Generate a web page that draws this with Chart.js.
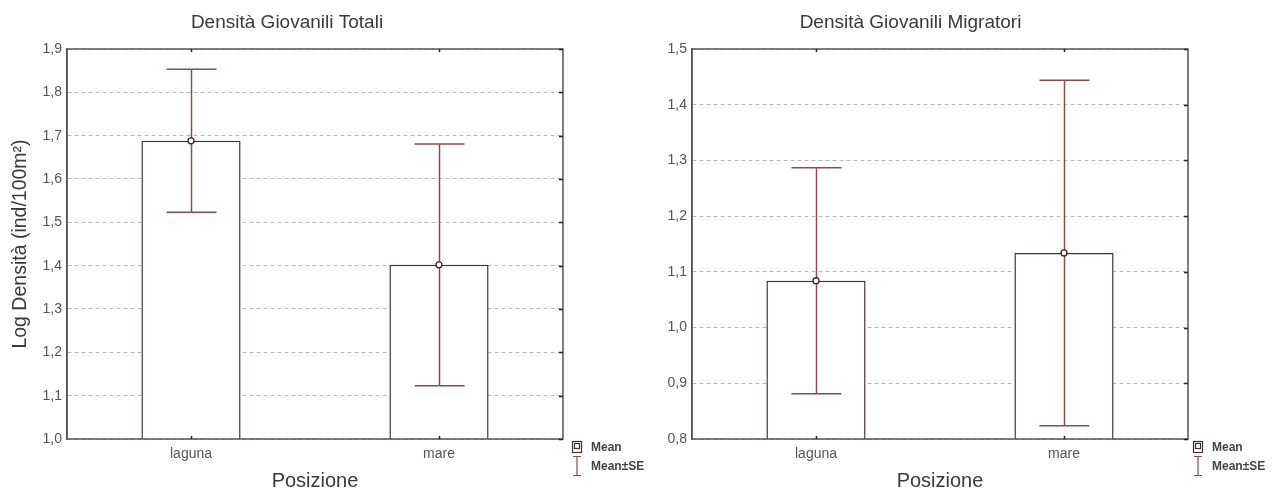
<!DOCTYPE html>
<html>
<head>
<meta charset="utf-8">
<title>Densità Giovanili</title>
<script src="https://cdn.jsdelivr.net/npm/chart.js@4/dist/chart.umd.min.js"></script>
<style>
    html, body { margin: 0; padding: 0; background: #fff; }
    body { width: 1283px; height: 496px; position: relative; overflow: hidden; }
    .panel { position: absolute; top: 0; height: 496px; }
    #panel-tot { left: 0; width: 650px; }
    #panel-mig { left: 620px; width: 663px; }
</style>
</head>
<body>
<div class="panel" id="panel-tot"><canvas id="chart-tot"></canvas></div>
<div class="panel" id="panel-mig"><canvas id="chart-mig"></canvas></div>
<script>
// categories (Posizione)
const positions = ['laguna', 'mare'];

// Densità Giovanili Totali: log mean and standard error
const totMean = [1.688, 1.402];
const totSE = [0.165, 0.279];
const totTicks = [1.0, 1.1, 1.2, 1.3, 1.4, 1.5, 1.6, 1.7, 1.8, 1.9];

// Densità Giovanili Migratori: log mean and standard error
const migMean = [1.084, 1.134];
const migSE = [0.203, 0.310];
const migTicks = [0.8, 0.9, 1.0, 1.1, 1.2, 1.3, 1.4, 1.5];

Chart.defaults.font.family = '"Liberation Sans", Arial, sans-serif';
Chart.defaults.color = '#444';

const BAR_LINE = '#4f2d2d';
const ERR_LINE = '#8a4d4d';

// mean ± SE whiskers, drawn right after the bars so the mean points sit on top
const errorBars = {
    id: 'errorBars',
    afterDatasetDraw(chart, args, opts) {
        if (args.index !== 1) return;
        const ctx = chart.ctx;
        const xs = chart.scales.x, ys = chart.scales.y;
        ctx.save();
        ctx.strokeStyle = ERR_LINE;
        ctx.lineWidth = 1.5;
        opts.means.forEach((m, i) => {
            const cx = Math.round(xs.getPixelForValue(i)) + 0.5;
            const top = ys.getPixelForValue(m + opts.se[i]);
            const bot = ys.getPixelForValue(m - opts.se[i]);
            ctx.beginPath();
            ctx.moveTo(cx, top); ctx.lineTo(cx, bot);
            ctx.moveTo(cx - 25, top); ctx.lineTo(cx + 25, top);
            ctx.moveTo(cx - 25, bot); ctx.lineTo(cx + 25, bot);
            ctx.stroke();
        });
        ctx.restore();
    }
};

// closed box around the plot area, with short inward ticks on the right and top
const plotFrame = {
    id: 'plotFrame',
    afterDatasetsDraw(chart) {
        const {ctx, chartArea: a, scales} = chart;
        ctx.save();
        ctx.strokeStyle = '#555';
        ctx.lineWidth = 1.5;
        ctx.strokeRect(a.left, a.top, a.right - a.left, a.bottom - a.top);
        ctx.strokeStyle = '#222';
        ctx.beginPath();
        scales.y.ticks.forEach(t => {
            const py = Math.round(scales.y.getPixelForValue(t.value)) + 0.5;
            ctx.moveTo(a.right - 4, py); ctx.lineTo(a.right, py);
        });
        positions.forEach((p, i) => {
            const px = Math.round(scales.x.getPixelForValue(i)) + 0.5;
            ctx.moveTo(px, a.top); ctx.lineTo(px, a.top + 3);
            ctx.moveTo(px, a.bottom); ctx.lineTo(px, a.bottom - 3);
        });
        ctx.stroke();
        ctx.restore();
    }
};

// small Mean / Mean±SE key under the right corner of the plot
const meanKey = {
    id: 'meanKey',
    afterDraw(chart, args, opts) {
        const ctx = chart.ctx;
        const x = opts.x, y = opts.y;
        ctx.save();
        ctx.strokeStyle = BAR_LINE;
        ctx.lineWidth = 1.2;
        ctx.strokeRect(x + 0.5, y - 6.5, 9, 11);
        ctx.strokeRect(x + 2.5, y - 4.5, 5, 5);
        ctx.strokeStyle = ERR_LINE;
        ctx.beginPath();
        ctx.moveTo(x + 1, y + 8.5); ctx.lineTo(x + 9, y + 8.5);
        ctx.moveTo(x + 5, y + 8.5); ctx.lineTo(x + 5, y + 27.5);
        ctx.moveTo(x + 1, y + 27.5); ctx.lineTo(x + 9, y + 27.5);
        ctx.stroke();
        ctx.fillStyle = '#444';
        ctx.font = 'bold 12px "Liberation Sans", Arial, sans-serif';
        ctx.textBaseline = 'middle';
        ctx.fillText('Mean', x + 19, y);
        ctx.fillText('Mean\u00B1SE', x + 19, y + 19);
        ctx.restore();
    }
};

function fmtTick(v) {
    return v.toFixed(1).replace('.', ',');
}

function buildChart(canvasId, cfg) {
    const tickSet = cfg.ticks;
    const yMin = tickSet[0], yMax = tickSet[tickSet.length - 1];
    const setTicks = scale => { scale.ticks = tickSet.map(v => ({ value: v })); };

    return new Chart(document.getElementById(canvasId), {
        type: 'bar',
        data: {
            labels: positions,
            datasets: [
                {
                    type: 'line',
                    label: 'Mean',
                    data: cfg.means,
                    showLine: false,
                    order: 1,
                    pointStyle: 'circle',
                    pointRadius: 3,
                    pointBackgroundColor: '#fff',
                    pointBorderColor: '#3a2626',
                    pointBorderWidth: 1.3
                },
                {
                    label: 'Mean',
                    data: cfg.means,
                    order: 2,
                    clip: 0,
                    backgroundColor: '#fff',
                    borderColor: BAR_LINE,
                    borderWidth: 1.5,
                    categoryPercentage: 1.0,
                    barPercentage: 0.4
                }
            ]
        },
        options: {
            responsive: true,
            maintainAspectRatio: false,
            animation: false,
            events: [],
            layout: { padding: { left: 0, right: cfg.padRight, top: 0, bottom: 0 } },
            plugins: {
                legend: { display: false },
                tooltip: { enabled: false },
                title: {
                    display: true,
                    text: cfg.title,
                    color: '#3a3a3a',
                    font: { size: 19, weight: 'normal' },
                    padding: { top: 11.6, bottom: 14.6 }
                },
                errorBars: { means: cfg.means, se: cfg.se },
                meanKey: { x: cfg.keyX, y: 448 }
            },
            scales: {
                x: {
                    type: 'category',
                    grid: { display: false, drawTicks: false },
                    border: { display: false },
                    ticks: { color: '#555', font: { size: 14 }, padding: 7 },
                    title: {
                        display: true,
                        text: 'Posizione',
                        color: '#3a3a3a',
                        font: { size: 20 },
                        padding: { top: 0, bottom: 3 }
                    },
                    afterFit: s => { s.height = 57; }
                },
                y: {
                    min: yMin,
                    max: yMax,
                    afterBuildTicks: setTicks,
                    grid: { color: '#b8b8b8', lineWidth: 1, drawTicks: false },
                    border: { display: true, color: '#555', width: 1.5, dash: [4, 3] },
                    ticks: { color: '#555', font: { size: 14 }, padding: 5, callback: fmtTick },
                    title: {
                        display: !!cfg.yTitle,
                        text: cfg.yTitle || '',
                        color: '#3a3a3a',
                        font: { size: 19.5 },
                        padding: { top: 9, bottom: 0 }
                    },
                    afterFit: s => { s.width = cfg.yWidth; }
                },
                y2: {
                    position: 'right',
                    min: yMin,
                    max: yMax,
                    grid: { display: false },
                    border: { display: false },
                    ticks: { display: false },
                    afterFit: s => { s.width = cfg.y2Width; }
                }
            }
        },
        plugins: [errorBars, plotFrame, meanKey]
    });
}

buildChart('chart-tot', {
    title: 'Densità Giovanili Totali',
    yTitle: 'Log Densità (ind/100m\u00B2)',
    means: totMean,
    se: totSE,
    ticks: totTicks,
    yWidth: 67,
    y2Width: 11,
    padRight: 76,
    keyX: 572
});

buildChart('chart-mig', {
    title: 'Densità Giovanili Migratori',
    yTitle: '',
    means: migMean,
    se: migSE,
    ticks: migTicks,
    yWidth: 72,
    y2Width: 13,
    padRight: 82,
    keyX: 573
});
</script>
</body>
</html>
